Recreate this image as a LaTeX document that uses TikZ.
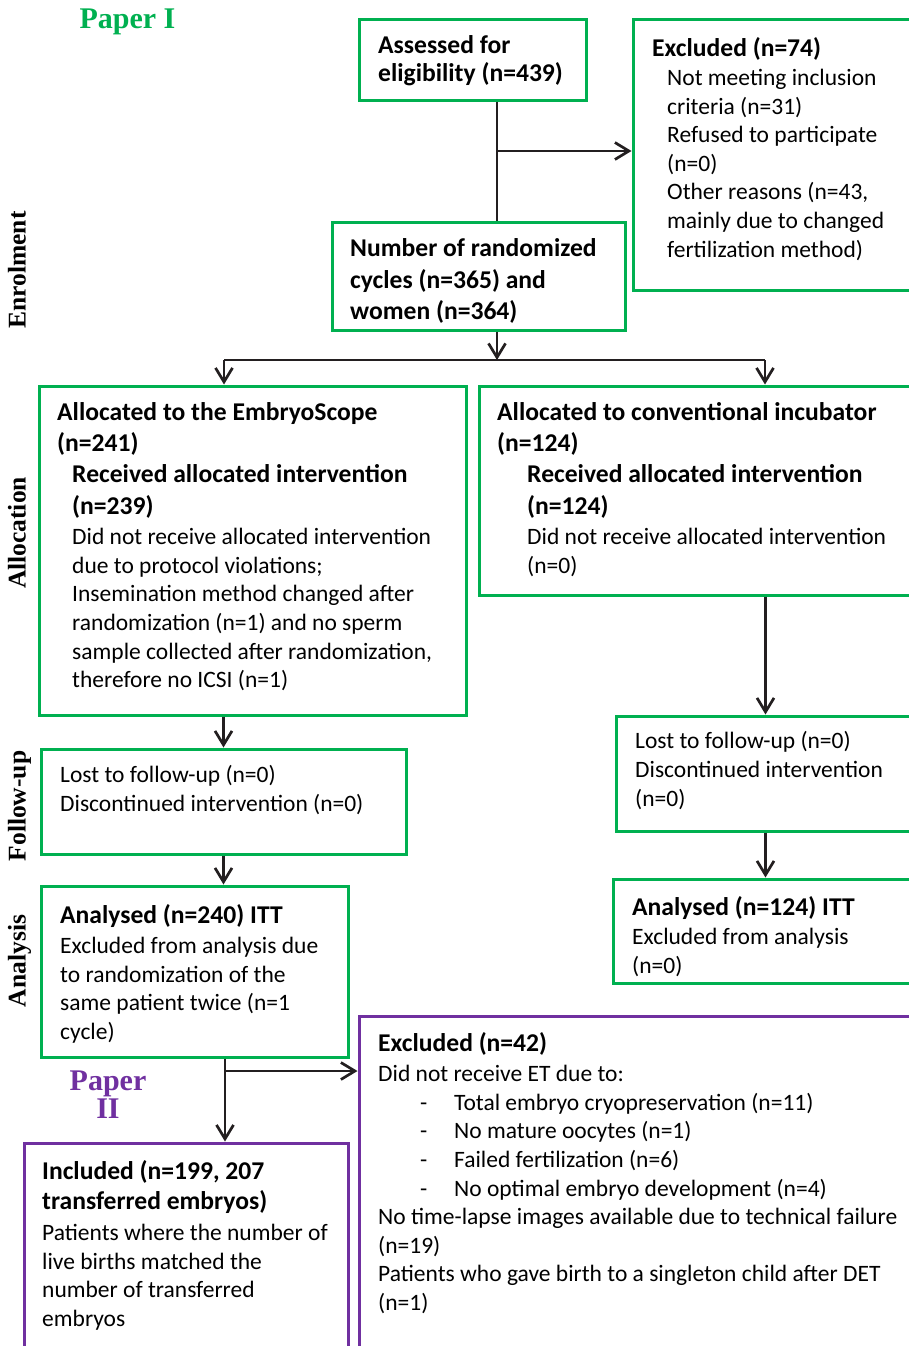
\documentclass[tikz,border=0pt]{standalone}
\usepackage{fontspec}
\setmainfont{Carlito}
\newfontfamily\labelfont{Liberation Serif}
\usetikzlibrary{arrows.meta,calc}
\definecolor{boxgreen}{RGB}{0,176,80}
\definecolor{boxpurple}{RGB}{112,48,160}
\definecolor{lineink}{RGB}{35,31,32}
\newcommand{\bx}[1]{{\fontsize{25.6}{31}\selectfont\bfseries #1}}
\newcommand{\dashitem}[1]{\hspace*{42pt}\makebox[34pt][l]{-}#1}
\tikzset{
  gbox/.style   = {draw=boxgreen, line width=3pt, inner sep=0pt},
  pbox/.style   = {draw=boxpurple, line width=3pt, inner sep=0pt},
  txt/.style    = {anchor=north west, yshift=16.5pt, inner sep=0pt, align=left,
                   execute at begin node={\rule{0pt}{22pt}},
                   font=\fontsize{23.5}{28.6}\selectfont},
  btxt/.style   = {txt, font=\fontsize{25.6}{31}\selectfont\bfseries},
  conn/.style   = {line width=2.7pt, draw=lineink},
  arr/.style    = {conn, -{Straight Barb[length=14pt,width=17pt,line width=2.7pt]}},
  stage/.style  = {rotate=90, anchor=base, inner sep=0pt,
                   font=\labelfont\bfseries\fontsize{25.5}{28}\selectfont},
  paper/.style  = {anchor=base, inner sep=0pt, align=center,
                   font=\labelfont\bfseries\fontsize{30}{27.5}\selectfont}
}

\begin{document}
\begin{tikzpicture}[x=1pt,y=-1pt]
\useasboundingbox (0,0) rectangle (909,1346);

% --- stage labels ---
\foreach \y/\name in {270/Enrolment, 533/Allocation, 806/Follow-up, 961/Analysis}{
  \node[stage] at (25.5,\y) {\name};
}
\node[paper, text=boxgreen] (paperI) at (127.5,29) {Paper I};
\node[paper, text=boxpurple] (paperII) at (108,1118) {Paper\\II};

% --- boxes (centre, size) ---
\node[gbox, minimum width=227pt, minimum height=80pt]  (assess)  at (472.5,60) {};
\node[gbox, minimum width=282pt, minimum height=270pt] (excla)   at (774,155) {};
\node[gbox, minimum width=293pt, minimum height=108pt] (rand)    at (478.5,276) {};
\node[gbox, minimum width=427pt, minimum height=329pt] (allocE)  at (252.5,550.5) {};
\node[gbox, minimum width=436pt, minimum height=209pt] (allocC)  at (697,490.5) {};
\node[gbox, minimum width=365pt, minimum height=105pt] (followE) at (223.5,801.5) {};
\node[gbox, minimum width=299pt, minimum height=115pt] (followC) at (765.5,773.5) {};
\node[gbox, minimum width=307pt, minimum height=171pt] (analE)   at (194.5,971.5) {};
\node[gbox, minimum width=302pt, minimum height=104pt] (analC)   at (764,931) {};
\node[pbox, minimum width=556pt, minimum height=339pt] (exclb)   at (637,1185.5) {};
\node[pbox, minimum width=324pt, minimum height=212pt] (incl)    at (186,1249) {};

% --- box texts ---
\node[btxt] at (378,52) {Assessed for\\[-3pt]eligibility (n=439)};
\node[btxt] at (652,51) {Excluded (n=74)};
\node[txt] at (667,85.5) {Not meeting inclusion\\criteria (n=31)\\Refused to participate\\(n=0)\\
  Other reasons (n=43,\\mainly due to changed\\fertilization method)};
\node[btxt] at (350,255) {Number of randomized\\[0.5pt]cycles (n=365) and\\[0.5pt]women (n=364)};
\node[btxt] at (57,419) {Allocated to the EmbryoScope\\(n=241)};
\node[txt] at (72,481) {\bx{Received allocated intervention}\\[3.4pt]\bx{(n=239)}\\[1.4pt]
  Did not receive allocated intervention\\due to protocol violations;\\Insemination method changed after\\
  randomization (n=1) and no sperm\\sample collected after randomization,\\therefore no ICSI (n=1)};
\node[btxt] at (497,419) {Allocated to conventional incubator\\(n=124)};
\node[txt] at (527,481) {\bx{Received allocated intervention}\\[3.4pt]\bx{(n=124)}\\[1.4pt]
  Did not receive allocated intervention\\(n=0)};
\node[txt] at (60,782) {Lost to follow-up (n=0)\\Discontinued intervention (n=0)};
\node[txt] at (635,748) {Lost to follow-up (n=0)\\Discontinued intervention\\(n=0)};
\node[txt] at (60,921) {\bx{Analysed (n=240) ITT}\\[1.4pt]Excluded from analysis due\\to randomization of the\\
  same patient twice (n=1\\cycle)};
\node[txt] at (632,913) {\bx{Analysed (n=124) ITT}\\[0.4pt]Excluded from analysis\\(n=0)};
\node[txt] at (378,1049) {\bx{Excluded (n=42)}\\[1.4pt]Did not receive ET due to:\\
  \dashitem{Total embryo cryopreservation (n=11)}\\
  \dashitem{No mature oocytes (n=1)}\\
  \dashitem{Failed fertilization (n=6)}\\
  \dashitem{No optimal embryo development (n=4)}\\
  No time-lapse images available due to technical failure\\(n=19)\\
  Patients who gave birth to a singleton child after DET\\(n=1)};
\node[txt] at (42,1177) {\bx{Included (n=199, 207}\\[1.4pt]\bx{transferred embryos)}\\[2.4pt]
  Patients where the number of\\live births matched the\\number of transferred\\embryos};

% --- connectors ---
\coordinate (trunk) at (497,151);
\coordinate (split) at (497,360);
\coordinate (splitL) at (224,360);
\coordinate (splitR) at (765,360);
\coordinate (stem) at (225,1071);

\draw[conn] (trunk |- assess.south) -- (trunk |- rand.north);
\draw[arr] (trunk) -- (trunk -| excla.west);
\draw[arr] (trunk |- rand.south) -- (split);
\draw[conn] (splitL) -- (splitR);
\draw[arr] (splitL) -- (splitL |- allocE.north);
\draw[arr] (splitR) -- (splitR |- allocC.north);
\draw[arr] (allocE.south -| followE.north) -- (followE.north);
\draw[arr] (followE.south) -- (followE.south |- analE.north);
\draw[arr] (allocC.south -| followC.north) -- (followC.north);
\draw[arr] (followC.south) -- (followC.south |- analC.north);
\draw[arr] (stem |- analE.south) -- (stem |- incl.north);
\draw[arr] (stem) -- (stem -| exclb.west);

\end{tikzpicture}
\end{document}
